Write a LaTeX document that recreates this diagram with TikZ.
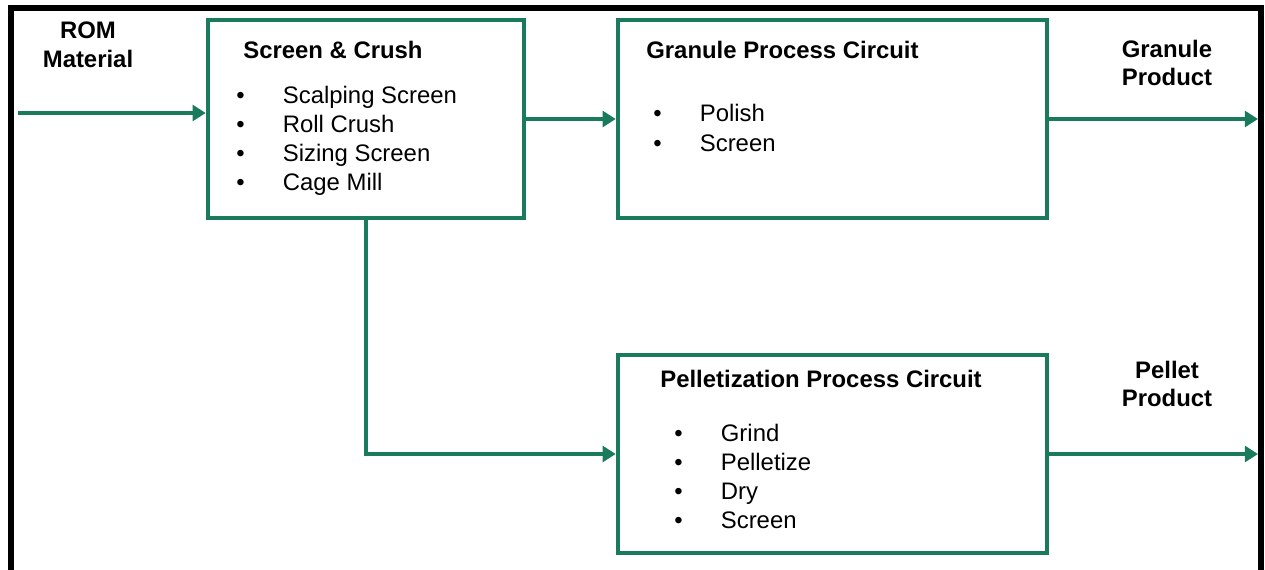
\documentclass[tikz,border=0pt]{standalone}
\usepackage{fontspec}
\setmainfont{Liberation Sans}
\usepackage{tikz}
\usetikzlibrary{arrows.meta, positioning}
\usepackage{xcolor}
\definecolor{procgreen}{RGB}{26,122,92}
\newcommand{\flowfont}{\fontsize{13.6}{16.4}\selectfont}
\newcommand{\bul}{\makebox[26.5pt][l]{\textbullet}}
\tikzset{
  stage/.style={rectangle, draw=procgreen, fill=white, line width=2.6pt,
                inner sep=0pt, minimum height=3.96cm},
  flow/.style={draw=procgreen, line width=2.7pt,
               -{Triangle[length=7.5pt, width=9pt]}},
  heading/.style={anchor=base west, inner sep=0pt, font=\flowfont\bfseries},
  item/.style={anchor=base west, inner sep=0pt, font=\flowfont},
  stream/.style={align=center, inner sep=0pt, font=\flowfont\bfseries},
  frame/.style={draw=black, line width=3.2pt},
}

\begin{document}
\begin{tikzpicture}[x=0.02cm, y=-0.02cm]
    \useasboundingbox (0,0) rectangle (1265,569);
    % Outer frame (open at the bottom)
    \draw[frame] (11,600) -- (11,8) -- (1261,8) -- (1261,600);
    % Process boxes
    \node[stage, minimum width=6.32cm] (crush)   at (366,119)   {};
    \node[stage, minimum width=8.58cm] (granule) at (832.5,119) {};
    \node[stage, minimum width=8.58cm] (pellet)  at (832.5,454) {};
    % Screen & Crush contents
    \node[heading] (crushhd) at (243,58)  {Screen \& Crush};
    \node[item]    (crush1)  at (236,103) {\bul Scalping Screen};
    \node[item]    (crush2)  at (236,132) {\bul Roll Crush};
    \node[item]    (crush3)  at (236,161) {\bul Sizing Screen};
    \node[item]    (crush4)  at (236,190) {\bul Cage Mill};
    % Granule circuit contents
    \node[heading] (granhd)  at (646,58)  {Granule Process Circuit};
    \node[item]    (gran1)   at (653,121) {\bul Polish};
    \node[item]    (gran2)   at (653,151) {\bul Screen};
    % Pelletization circuit contents
    \node[heading] (pellhd)  at (660,387) {Pelletization Process Circuit};
    \node[item]    (pell1)   at (674,441) {\bul Grind};
    \node[item]    (pell2)   at (674,470) {\bul Pelletize};
    \node[item]    (pell3)   at (674,499) {\bul Dry};
    \node[item]    (pell4)   at (674,528) {\bul Screen};
    % Stream labels
    \node[stream] (rom)     at (88,45)    {ROM\\Material};
    \node[stream] (granprd) at (1167,63)  {Granule\\Product};
    \node[stream] (pellprd) at (1167,384) {Pellet\\Product};
    % Free ends of the streams
    \coordinate (romin)   at (18,113);
    \coordinate (granout) at (1258,119);
    \coordinate (pellout) at (1258,454);
    % Connectors
    \draw[flow] (romin) -- (romin -| crush.west);
    \draw[flow] (crush) -- (granule);
    \draw[flow] (granule.east) -- (granout);
    \draw[flow] (crush.south) |- (pellet.west);
    \draw[flow] (pellet.east) -- (pellout);
\end{tikzpicture}
\end{document}
